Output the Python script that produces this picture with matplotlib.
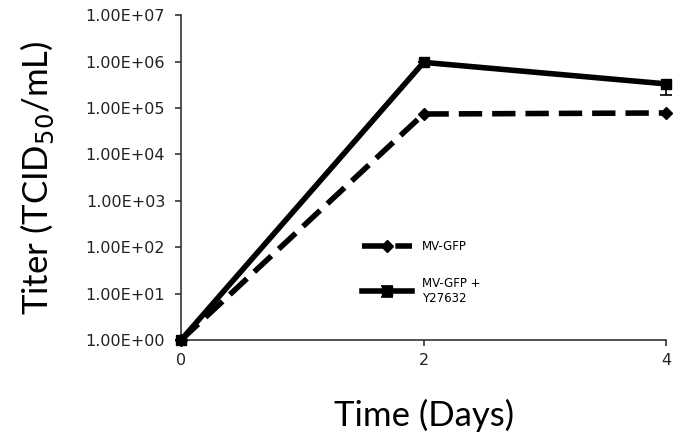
import matplotlib
matplotlib.use("Agg")
import matplotlib.pyplot as plt
import numpy as np

days = [0, 2, 4]
mv_gfp = [1.0, 7.4e4, 7.8e4]
mv_gfp_y = [1.0, 9.6e5, 3.3e5]
mv_gfp_y_err_low = [0, 0, 1.4e5]
mv_gfp_y_err_high = [0, 0, 0]
ytick_vals = [1e0, 1e1, 1e2, 1e3, 1e4, 1e5, 1e6, 1e7]
ytick_labels = ["1.00E+00", "1.00E+01", "1.00E+02", "1.00E+03",
                "1.00E+04", "1.00E+05", "1.00E+06", "1.00E+07"]
xtick_labels = ["0", "2", "4"]

fig = plt.figure(figsize=(6.86, 4.45), dpi=100)
ax = fig.add_axes([0.264, 0.236, 0.707, 0.730])

ax.plot(days, mv_gfp, color="black", lw=4, dashes=(4.2, 1.8),
        marker="D", markersize=6, label="MV-GFP", zorder=3, clip_on=False)
ax.errorbar(days, mv_gfp_y, yerr=[mv_gfp_y_err_low, mv_gfp_y_err_high], color="black", lw=4,
            marker="s", markersize=7.5, capsize=4, elinewidth=1.2, capthick=1.2,
            label="MV-GFP +\nY27632", zorder=4, clip_on=False)

ax.set_yscale("log")
ax.set_ylim(1e0, 1e7)
ax.set_xlim(0, 4)
ax.set_yticks(ytick_vals)
ax.set_yticklabels(ytick_labels, fontfamily="DejaVu Sans", fontsize=11.5, color="#222222")
ax.yaxis.set_minor_locator(matplotlib.ticker.NullLocator())
ax.set_xticks(days)
ax.set_xticklabels(xtick_labels, fontfamily="DejaVu Sans", fontsize=11.5, color="#222222")
ax.tick_params(axis="both", direction="out", length=4.5, width=1.2, color="#333333")
ax.tick_params(axis="y", pad=7)
ax.tick_params(axis="x", pad=5)

for s in ["top", "right"]:
    ax.spines[s].set_visible(False)
for s in ["left", "bottom"]:
    ax.spines[s].set_linewidth(1.2)
    ax.spines[s].set_color("#333333")

ax.set_xlabel("Time (Days)", fontfamily="Lato", fontsize=25, labelpad=22)
ax.set_ylabel("Titer (TCID$_{50}$/mL)", fontfamily="Lato", fontsize=25, labelpad=21)

leg = ax.legend(loc="upper left", bbox_to_anchor=(0.373, 0.308), frameon=False,
                borderpad=0, borderaxespad=0,
                handlelength=4.2, labelspacing=2.0, handletextpad=0.85,
                prop={"family": "DejaVu Sans", "size": 8.5})

fig.savefig("out.png", dpi=100)
